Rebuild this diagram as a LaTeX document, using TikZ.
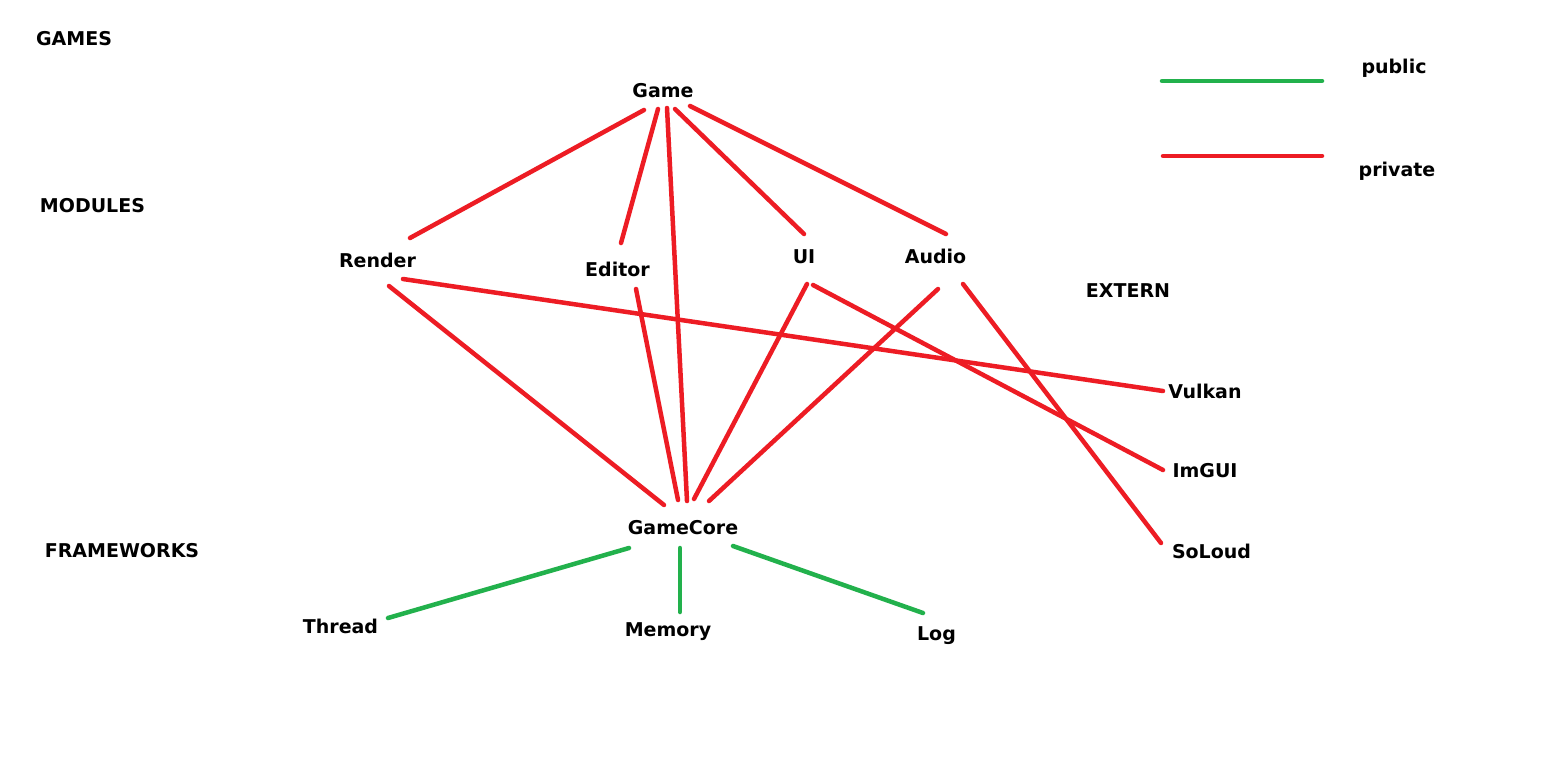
\documentclass[tikz,border=0pt]{standalone}
\usepackage{fontspec}
\setmainfont{DejaVu Sans}
\definecolor{pred}{HTML}{ED1C24}
\definecolor{pgreen}{HTML}{22B14C}
\begin{document}
\begin{tikzpicture}[x=1pt,y=-1pt,
  lbl/.style={anchor=base,inner sep=0pt,font=\fontsize{19}{22}\selectfont\bfseries,text=black},
  priv/.style={draw=pred,line width=4.5pt,line cap=round},
  pub/.style={draw=pgreen,line width=4.5pt,line cap=round}]
\useasboundingbox[fill=white] (0,0) rectangle (1566,782);
% layer labels
\node[lbl] (games) at (74,45) {GAMES};
\node[lbl] (modules) at (92.5,212) {MODULES};
\node[lbl] (frameworks) at (122,557) {FRAMEWORKS};
\node[lbl] (extern) at (1128,297) {EXTERN};
% nodes
\node[lbl] (game) at (663,97) {Game};
\node[lbl] (render) at (377.5,267) {Render};
\node[lbl] (editor) at (617.5,276) {Editor};
\node[lbl] (ui) at (804,263) {UI};
\node[lbl] (audio) at (935.5,263) {Audio};
\node[lbl] (vulkan) at (1205,398) {Vulkan};
\node[lbl] (imgui) at (1205,477) {ImGUI};
\node[lbl] (soloud) at (1211.5,558) {SoLoud};
\node[lbl] (gamecore) at (683,534) {GameCore};
\node[lbl] (thread) at (340.5,633) {Thread};
\node[lbl] (memory) at (668,636) {Memory};
\node[lbl] (log) at (936.5,640) {Log};
% legend
\node[lbl] (public) at (1394,73) {public};
\node[lbl] (private) at (1397,176) {private};
\coordinate (pubA) at (1162,81);
\coordinate (pubB) at (1322,81);
\coordinate (privA) at (1163,156);
\coordinate (privB) at (1322,156);
\draw[pub] (pubA) -- (pubB);
\draw[priv] (privA) -- (privB);
% private connectors
\draw[priv] ([shift={(-19,13)}]game.base) -- ([shift={(32.5,-29)}]render.base);
\draw[priv] ([shift={(-5,12)}]game.base) -- ([shift={(3.5,-33)}]editor.base);
\draw[priv] ([shift={(4,11)}]game.base) -- ([shift={(4,-33)}]gamecore.base);
\draw[priv] ([shift={(12,12)}]game.base) -- ([shift={(0,-29)}]ui.base);
\draw[priv] ([shift={(27,9)}]game.base) -- ([shift={(10.5,-29)}]audio.base);
\draw[priv] ([shift={(25.5,12)}]render.base) -- ([shift={(-42,-7)}]vulkan.base);
\draw[priv] ([shift={(11.5,19)}]render.base) -- ([shift={(-19,-29)}]gamecore.base);
\draw[priv] ([shift={(18.5,13)}]editor.base) -- ([shift={(-5,-34)}]gamecore.base);
\draw[priv] ([shift={(3,21)}]ui.base) -- ([shift={(11,-35)}]gamecore.base);
\draw[priv] ([shift={(9,22)}]ui.base) -- ([shift={(-42,-7)}]imgui.base);
\draw[priv] ([shift={(2.5,26)}]audio.base) -- ([shift={(26,-33)}]gamecore.base);
\draw[priv] ([shift={(27.5,21)}]audio.base) -- ([shift={(-50.5,-15)}]soloud.base);
% public connectors
\draw[pub] ([shift={(-54,14)}]gamecore.base) -- ([shift={(47.5,-15)}]thread.base);
\draw[pub] ([shift={(-3,14)}]gamecore.base) -- ([shift={(12,-24)}]memory.base);
\draw[pub] ([shift={(50,12)}]gamecore.base) -- ([shift={(-13.5,-27)}]log.base);
\end{tikzpicture}
\end{document}
